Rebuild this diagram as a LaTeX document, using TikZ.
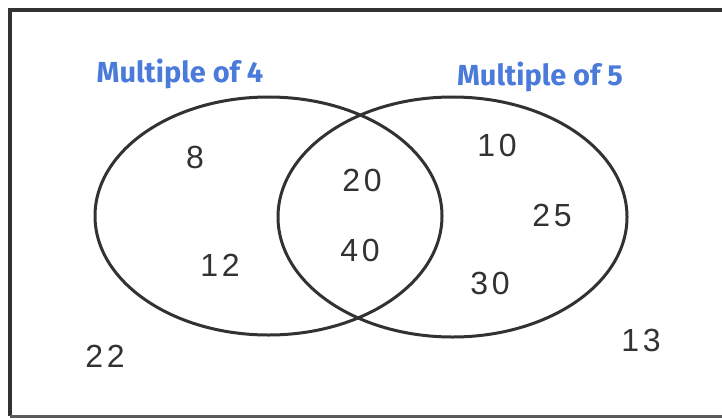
\documentclass[tikz,border=0pt]{standalone}
\usepackage{fontspec}
\usetikzlibrary{shapes.geometric}
\setmainfont{Liberation Sans}
\newfontfamily\labelfont{Fira Sans}
\definecolor{lblblue}{RGB}{74,122,218}
\definecolor{ink}{RGB}{50,50,50}
\begin{document}
\begin{tikzpicture}[x=1pt,y=-1pt,
  setline/.style={draw=ink,line width=3pt,ellipse,inner sep=0pt},
  setlabel/.style={font=\labelfont\bfseries\fontsize{29}{29}\selectfont,text=lblblue,inner sep=0pt},
  hand/.style={font=\fontsize{32}{32}\selectfont\addfontfeature{LetterSpace=12},text=ink,inner sep=0pt}]
\useasboundingbox (0,0) rectangle (722,418);
\fill[white] (0,0) rectangle (722,418);
\draw[ink,line width=4pt] (10,416) -- (10,10) -- (726,10);
\draw[ink!80,line width=3pt] (10,416) -- (726,416);
\node[setline,minimum width=347pt,minimum height=238pt] (A) at (268.5,216) {};
\node[setline,minimum width=349pt,minimum height=240pt] (B) at (452.5,217) {};
\node[setlabel] (la) at (180,74) {Multiple of 4};
\node[setlabel] (lb) at (540,77) {Multiple of 5};
\node[hand] (n8) at (195,157) {8};
\node[hand] (n12) at (220,265) {12};
\node[hand] (n20) at (362,180) {20};
\node[hand] (n40) at (360,250) {40};
\node[hand] (n10) at (497,145) {10};
\node[hand] (n25) at (552,215) {25};
\node[hand] (n30) at (490,283) {30};
\node[hand] (n13) at (641,340) {13};
\node[hand] (n22) at (105,356) {22};
\end{tikzpicture}
\end{document}
